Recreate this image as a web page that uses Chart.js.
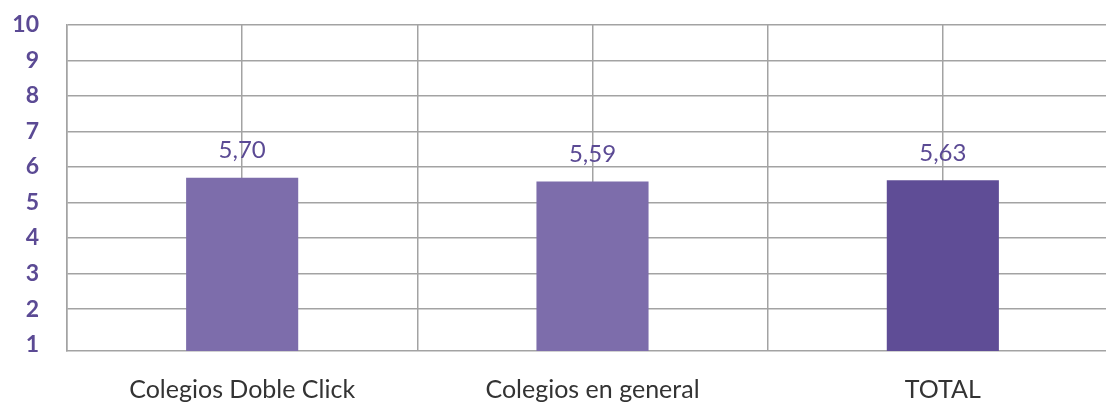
<!DOCTYPE html>
<html>
<head>
<meta charset="utf-8">
<script src="https://cdn.jsdelivr.net/npm/chart.js@4/dist/chart.umd.min.js"></script>
<style>
  html, body { margin: 0; padding: 0; background: #ffffff; overflow: hidden; }
  #wrap { width: 1118px; height: 412px; }
</style>
</head>
<body>
<div id="wrap"><canvas id="c" width="1118" height="412"></canvas></div>
<script>
const categories = ['Colegios Doble Click', 'Colegios en general', 'TOTAL'];
const values = [5.70, 5.59, 5.63];
const valueLabels = ['5,70', '5,59', '5,63'];
const yTicks = [1, 2, 3, 4, 5, 6, 7, 8, 9, 10];
const barColors = ['#7d6dab', '#7d6dab', '#5f4d96'];

const gridGray = '#a3a3a3';

const valueLabelPlugin = {
  id: 'valueLabels',
  afterDatasetsDraw(chart) {
    const ctx = chart.ctx;
    const meta = chart.getDatasetMeta(0);
    ctx.save();
    ctx.font = '24px Lato';
    ctx.fillStyle = '#5b4a94';
    ctx.textAlign = 'center';
    ctx.textBaseline = 'middle';
    meta.data.forEach((bar, i) => {
      ctx.fillText(valueLabels[i], bar.x, bar.y - 27);
    });
    ctx.restore();
  }
};

new Chart(document.getElementById('c'), {
  type: 'bar',
  data: {
    labels: categories,
    datasets: [{
      data: values,
      backgroundColor: barColors,
      borderWidth: 0,
      barPercentage: 1,
      categoryPercentage: 0.32
    }]
  },
  options: {
    responsive: false,
    animation: false,
    layout: { padding: { top: 25, left: 0, right: 0, bottom: 0 } },
    plugins: { legend: { display: false }, tooltip: { enabled: false } },
    scales: {
      x: {
        position: 'bottom',
        offset: true,
        grid: { offset: true, color: gridGray, lineWidth: 1.5, drawTicks: false },
        border: { display: true, color: gridGray, width: 1.5 },
        ticks: { color: '#333333', font: { family: 'Lato', size: 25 }, padding: 24 },
        afterFit: s => { s.height = 61; }
      },
      x2: {
        position: 'top',
        offset: true,
        labels: categories,
        grid: { offset: false, color: gridGray, lineWidth: 1.5, drawTicks: false },
        border: { display: false },
        ticks: { display: false },
        afterFit: s => { s.height = 0; }
      },
      y: {
        min: 0.82,
        max: 10,
        afterBuildTicks: s => { s.ticks = yTicks.map(v => ({ value: v })); },
        grid: {
          color: c => (c.tick && c.tick.value === 1) ? 'rgba(0,0,0,0)' : gridGray,
          lineWidth: 1.5,
          drawTicks: true,
          tickLength: 28,
          tickColor: 'rgba(0,0,0,0)'
        },
        border: { display: true, color: gridGray, width: 1.5 },
        ticks: {
          color: '#5b4a94',
          font: { family: 'Lato', size: 23, weight: 'bold' },
          padding: 0
        },
        afterFit: s => { s.width = 67; }
      }
    }
  },
  plugins: [valueLabelPlugin]
});
</script>
</body>
</html>
